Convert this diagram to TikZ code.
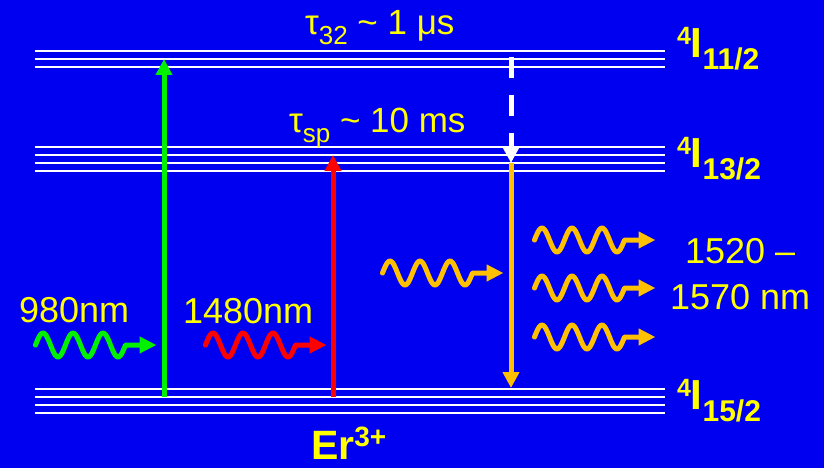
\documentclass[tikz,border=0pt]{standalone}
\usepackage{fontspec}
\setmainfont{Liberation Sans}
\usetikzlibrary{arrows.meta}
\definecolor{bgblue}{RGB}{0,0,240}
\definecolor{txtyellow}{RGB}{255,255,0}
\definecolor{photonorange}{RGB}{255,192,0}
\definecolor{pumpgreen}{RGB}{0,240,0}
\definecolor{pumpred}{RGB}{255,0,0}
\newcommand{\fsz}[1]{\fontsize{#1}{#1}\selectfont}
\begin{document}
\begin{tikzpicture}[x=1pt,y=-1pt,
  level/.style={draw=white,line width=1.8pt},
  lbl/.style={text=txtyellow,inner sep=0pt,outer sep=0pt,anchor=base west},
  trans/.style={line width=5pt,-{Triangle[length=16pt,width=16pt]}},
  pics/photon/.style={code={
    \draw[color=#1,line width=5pt,line cap=round,line join=round,-{Triangle[length=17pt,width=16pt]}]
      plot[domain=0:90,samples=91] (\x,{-12*sin(12*\x)}) -- (121,0);
  }}
]
\fill[bgblue] (0,0) rectangle (824,468);
\useasboundingbox (0,0) rectangle (824,468);

% energy levels
\foreach \yy in {51,59,67} \draw[level] (35,\yy) -- (665,\yy);
\foreach \yy in {147,155,163,171} \draw[level] (35,\yy) -- (665,\yy);
\foreach \yy in {389,397,405,413} \draw[level] (35,\yy) -- (665,\yy);

% transitions
\coordinate (g0) at (164,397);
\coordinate (g1) at (164,59);
\coordinate (r0) at (333,397);
\coordinate (r1) at (333,155);
\coordinate (w0) at (511,57);
\coordinate (w1) at (511,163);
\coordinate (o0) at (511,163);
\coordinate (o1) at (511,388);
\draw[trans,pumpgreen] (g0) -- (g1);
\draw[trans,pumpred] (r0) -- (r1);
\draw[trans,white,dash pattern=on 21pt off 17pt] (w0) -- (w1);
\draw[trans,photonorange] (o0) -- (o1);

% photons
\pic (pg) at (35.5,345) {photon=pumpgreen};
\pic (pr) at (205.5,345) {photon=pumpred};
\pic (pin) at (382.5,273) {photon=photonorange};
\pic (po1) at (534.5,240) {photon=photonorange};
\pic (po2) at (534.5,288) {photon=photonorange};
\pic (po3) at (534.5,337) {photon=photonorange};

% labels
\node[lbl,font=\fsz{35}] (t32) at (305,35) {τ\raisebox{-10pt}{\fsz{26}32} \textasciitilde{} 1 μs};
\node[lbl,font=\fsz{35}] (tsp) at (289,132) {τ\raisebox{-10pt}{\fsz{26}sp} \textasciitilde{} 10 ms};
\node[lbl,font=\fsz{36}] (l980) at (19,322) {980nm};
\node[lbl,font=\fsz{36}] (l1480) at (183,323) {1480nm};
\node[lbl,font=\fsz{36}] (lr1) at (685,263) {1520 –};
\node[lbl,font=\fsz{36}] (lr2) at (670,309) {1570 nm};
\node[lbl,font=\bfseries] (L1) at (677,58) {\raisebox{13pt}{\fsz{25}4}\fsz{42}I\raisebox{-12pt}{\fsz{30}11/2}};
\node[lbl,font=\bfseries] (L2) at (677,167) {\raisebox{13pt}{\fsz{25}4}\fsz{42}I\raisebox{-12pt}{\fsz{30}13/2}};
\node[lbl,font=\bfseries] (L3) at (677,409) {\raisebox{13pt}{\fsz{25}4}\fsz{42}I\raisebox{-12pt}{\fsz{30}15/2}};
\node[lbl,font=\bfseries\fsz{41}] (er) at (311,459) {Er\raisebox{13pt}{\fsz{28}3+}};
\end{tikzpicture}
\end{document}
